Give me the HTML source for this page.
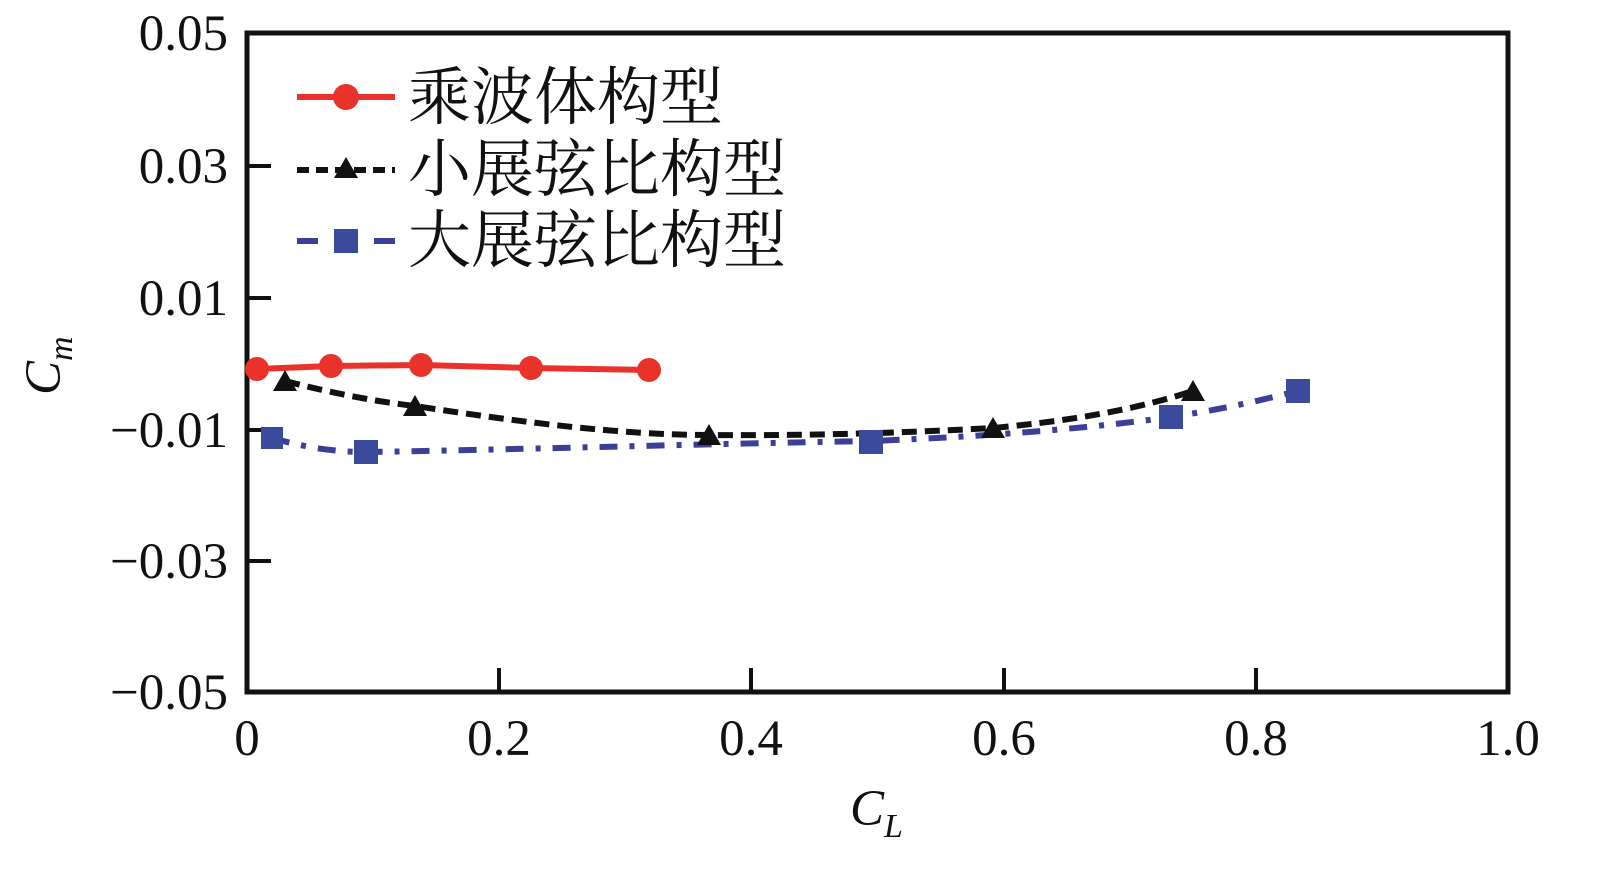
<!DOCTYPE html>
<html><head><meta charset="utf-8"><style>
body{margin:0;background:#fff}
text{font-family:"Liberation Serif","Noto Serif CJK SC",serif;fill:#111}
</style></head><body>
<svg width="1613" height="886" viewBox="0 0 1613 886" xmlns="http://www.w3.org/2000/svg">
<rect x="247" y="33" width="1261" height="659" fill="none" stroke="#111" stroke-width="5"/>
<g stroke="#111" stroke-width="4">
<line x1="247" y1="166" x2="271" y2="166"/><line x1="247" y1="298" x2="271" y2="298"/>
<line x1="247" y1="430" x2="271" y2="430"/><line x1="247" y1="561" x2="271" y2="561"/>
<line x1="499" y1="692" x2="499" y2="668"/><line x1="751" y1="692" x2="751" y2="668"/>
<line x1="1004" y1="692" x2="1004" y2="668"/><line x1="1256" y1="692" x2="1256" y2="668"/>
</g>
<g font-size="51" text-anchor="end">
<text x="228" y="50">0.05</text><text x="228" y="183">0.03</text><text x="228" y="315">0.01</text>
<text x="228" y="447">−0.01</text><text x="228" y="578">−0.03</text><text x="228" y="709">−0.05</text>
</g>
<g font-size="51" text-anchor="middle">
<text x="247" y="755">0</text><text x="499" y="755">0.2</text><text x="751" y="755">0.4</text>
<text x="1004" y="755">0.6</text><text x="1256" y="755">0.8</text><text x="1508" y="755">1.0</text>
</g>
<text x="850" y="825" font-size="51" font-style="italic">C<tspan font-size="34" dy="12">L</tspan></text>
<text transform="translate(60,395) rotate(-90)" font-size="51" font-style="italic">C<tspan font-size="34" dy="12">m</tspan></text>
<path d="M272,438 C300,446 330,452 366,452 C500,450 700,444 871,441 C1000,436 1100,427 1171,417 C1230,408 1270,398 1298,391" fill="none" stroke="#3c3f98" stroke-width="6" stroke-dasharray="18,12,5,12"/>
<path d="M285,381 C340,395 380,402 415,406 C520,422 620,435 709,435 C820,436 920,432 993,428 C1080,420 1140,408 1193,391" fill="none" stroke="#111" stroke-width="6" stroke-dasharray="15,8"/>
<polyline points="257,369 331,366 421,365 531,368 649,370" fill="none" stroke="#e8322a" stroke-width="6"/>
<g fill="#e8322a"><circle cx="257" cy="369" r="12"/><circle cx="331" cy="366" r="12"/><circle cx="421" cy="365" r="12"/><circle cx="531" cy="368" r="12"/><circle cx="649" cy="370" r="12"/></g>
<g fill="#111"><polygon points="285,370 273,391 297,391"/><polygon points="415,395 403,416 427,416"/><polygon points="709,424 697,445 721,445"/><polygon points="993,417 981,438 1005,438"/><polygon points="1193,380 1181,401 1205,401"/></g>
<g fill="#3c4a9c"><rect x="261" y="427" width="22" height="22"/><rect x="354" y="440" width="24" height="24"/><rect x="859" y="430" width="24" height="24"/><rect x="1159" y="405" width="24" height="24"/><rect x="1286" y="379" width="24" height="24"/></g>
<line x1="297" y1="97" x2="395" y2="97" stroke="#e8322a" stroke-width="6"/>
<circle cx="346" cy="97" r="13" fill="#e8322a"/>
<line x1="297" y1="170" x2="395" y2="170" stroke="#111" stroke-width="6" stroke-dasharray="12,7"/>
<polygon points="346,157 334,178 358,178" fill="#111"/>
<line x1="297" y1="241" x2="318" y2="241" stroke="#3c3f98" stroke-width="6"/>
<line x1="374" y1="241" x2="395" y2="241" stroke="#3c3f98" stroke-width="6"/>
<rect x="334" y="229" width="24" height="24" fill="#3c4a9c"/>
<g font-size="63"><text x="408" y="119">乘波体构型</text><text x="408" y="191">小展弦比构型</text><text x="408" y="262">大展弦比构型</text></g>
</svg>
</body></html>
